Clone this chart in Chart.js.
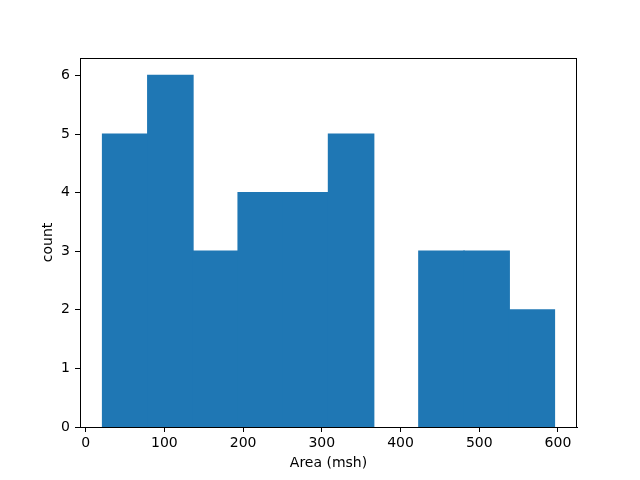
<!DOCTYPE html>
<html>
<head>
<meta charset="utf-8">
<script src="https://cdn.jsdelivr.net/npm/chart.js@4"></script>
<style>
  html, body { margin: 0; padding: 0; background: #fff; }
  #wrap { width: 640px; height: 480px; }
</style>
</head>
<body>
<div id="wrap"><canvas id="chart" width="640" height="480"></canvas></div>
<script>
// histogram bins
const binEdges = [21.5, 78.9, 136.3, 193.7, 251.1, 308.5, 365.9, 423.3, 480.7, 538.1, 595.5];
const counts = [5, 6, 3, 4, 4, 5, 0, 3, 3, 2];
const xTicks = [0, 100, 200, 300, 400, 500, 600];
const yTicks = [0, 1, 2, 3, 4, 5, 6];

const FONT = 'DejaVu Sans';

const bars = counts.map((c, i) => ({ x: (binEdges[i] + binEdges[i + 1]) / 2, y: c }));

// top and right spines
const frame = {
    id: 'frame',
    afterDraw: c => {
        const { ctx, chartArea: a } = c;
        ctx.save();
        ctx.strokeStyle = '#000';
        ctx.lineWidth = 1;
        ctx.strokeRect(Math.round(a.left) + 0.5, Math.round(a.top) + 0.5,
            Math.round(a.right - a.left) - 1, Math.round(a.bottom - a.top));
        ctx.restore();
    }
};

const tickCfg = {
    drawOnChartArea: false,
    drawTicks: true,
    tickLength: 5,
    tickColor: '#000',
    offset: false,
};

const ctx = document.getElementById('chart').getContext('2d');
const chart = new Chart(ctx, {
    type: 'bar',
    data: {
        datasets: [{
            data: bars,
            backgroundColor: '#1f77b4',
            borderWidth: 0,
            barPercentage: 1,
            categoryPercentage: 1,
            // covers the antialias seams between bins, skip empty bins
            inflateAmount: c => (c.raw && c.raw.y ? 0.7 : 0),
            grouped: false,
        }],
    },
    options: {
        responsive: false,
        animation: false,
        devicePixelRatio: 1,
        layout: { padding: { left: 0, right: 63, top: 58, bottom: 0 } },
        plugins: { legend: { display: false }, tooltip: { enabled: false } },
        scales: {
            x: {
                type: 'linear',
                offset: false,
                min: -7.2,
                max: 624.2,
                grid: tickCfg,
                border: { display: true, color: '#000', width: 1 },
                afterBuildTicks: s => { s.ticks = xTicks.map(v => ({ value: v })); },
                afterFit: s => { s.height = 53; },
                ticks: {
                    color: '#000',
                    padding: 3,
                    maxRotation: 0,
                    font: { family: FONT, size: 14 },
                },
                title: {
                    display: true,
                    text: 'Area (msh)',
                    color: '#000',
                    font: { family: FONT, size: 14 },
                    padding: { top: 0, bottom: 8 },
                },
            },
            y: {
                min: 0,
                max: 6.3,
                grid: tickCfg,
                border: { display: true, color: '#000', width: 1 },
                afterBuildTicks: s => { s.ticks = yTicks.map(v => ({ value: v })); },
                afterFit: s => { s.width = 80; },
                ticks: {
                    color: '#000',
                    padding: 5,
                    font: { family: FONT, size: 14 },
                },
                title: {
                    display: true,
                    text: 'count',
                    color: '#000',
                    font: { family: FONT, size: 14 },
                    padding: { top: 40, bottom: 0 },
                },
            },
        },
    },
    plugins: [frame],
});
</script>
</body>
</html>
